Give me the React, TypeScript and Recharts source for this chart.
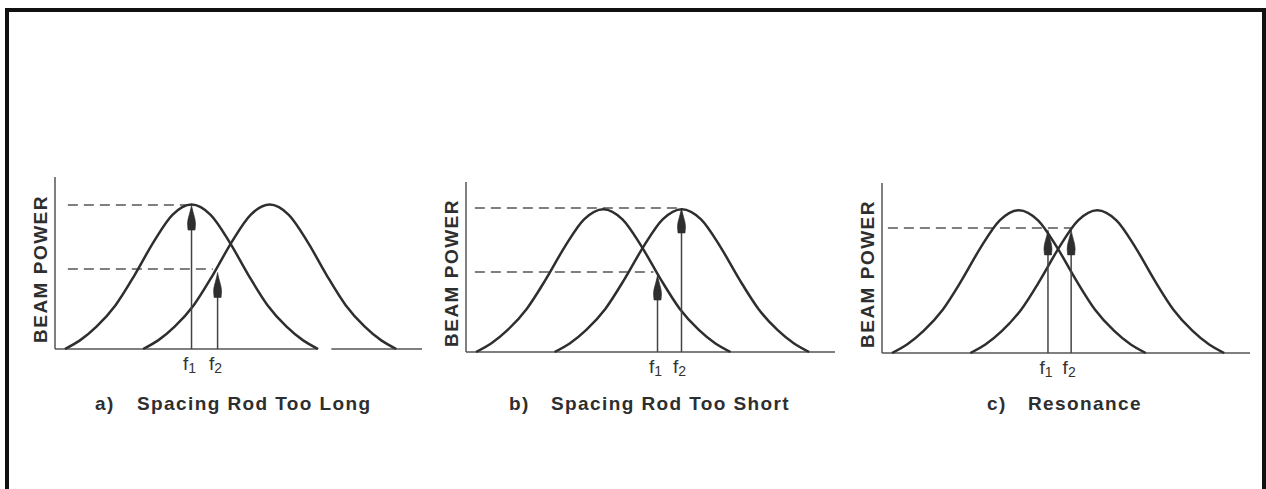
import React from "react";
import { Line, LineChart, ReferenceLine, XAxis, YAxis } from "recharts";

// bell curve (same shape repeated in every panel)
const BELL_Y = [0, 5, 13, 25.5, 43, 62, 78, 84, 78, 62, 43, 25.5, 13, 5, 0];
const LEFT_X = [2.7, 6.8, 11.3, 16.5, 21.7, 26.8, 32.0, 37.2, 42.4, 47.6, 52.7, 57.9, 63.1, 67.6, 71.7];
const RIGHT_X = [24.0, 28.1, 32.6, 37.8, 43.0, 48.1, 53.3, 58.5, 63.7, 68.9, 74.0, 79.2, 84.4, 88.9, 93.0];

const LETTERS = ["a)", "b)", "c)"];
const TITLES = ["Spacing Rod Too Long", "Spacing Rod Too Short", "Resonance"];
const F1 = [37.2, 51.9, 45.1];
const F2 = [44.3, 58.4, 51.4];
const F1_TOP = [83.7, 45.3, 72.4];
const F2_TOP = [44.5, 84.7, 72.4];
const DASH_START = [3.5, 2.4, 1.6];
const DASH_LEVELS = [[83.7, 46.5], [84.7, 47.1], [73.5]];
const DASH_END = [[37.2, 43.0], [58.4, 50.8], [51.4]];
const BASELINE = [[[0, 71.5], [75.3, 100]], [[0, 100]], [[0, 100]]];

const PLOTS = [
  { left: 55, right: 422, top: 177, bottom: 349, letterX: 95, titleX: 137 },
  { left: 466, right: 835, top: 182, bottom: 352, letterX: 509, titleX: 551 },
  { left: 882, right: 1250, top: 183, bottom: 353, letterX: 987, titleX: 1028 },
];

const leftCurve = LEFT_X.map((x, i) => ({ x, y: BELL_Y[i] }));
const rightCurve = RIGHT_X.map((x, i) => ({ x, y: BELL_Y[i] }));

const INK = "#2e2e2e";
const AXIS = "#555";
const FONT = "'Liberation Sans', Arial, Helvetica, sans-serif";
const Y_AXIS_W = 35;
const M = { top: 10, right: 10, bottom: 5, left: 0 };
const X_AXIS_H = 30;

function Arrow(props: any) {
  const { x1, y1, x2, y2 } = props;
  if (x1 == null || y1 == null) return <g />;
  const x = x2;
  const tip = Math.min(y1, y2);
  const base = Math.max(y1, y2);
  const head = `M${x},${tip} C${x + 1},${tip + 7} ${x + 4},${tip + 13} ${x + 4},${tip + 19} L${x + 3.5},${tip + 25} L${x - 3.5},${tip + 25} L${x - 4},${tip + 19} C${x - 4},${tip + 13} ${x - 1},${tip + 7} ${x},${tip} Z`;
  return (
    <g>
      <line x1={x} y1={base} x2={x} y2={tip + 4} stroke="#444" strokeWidth={1.5} />
      <path d={head} fill="#2e2e2e" stroke="#2e2e2e" strokeWidth={0.6} />
    </g>
  );
}

function FreqTick(props: any) {
  const { x, y, payload, f1 } = props;
  const sub = payload.value === f1 ? "1" : "2";
  return (
    <text x={x - 2} y={y + 13} textAnchor="middle" fontFamily={FONT} fill="#333" stroke="none">
      <tspan fontSize={19}>f</tspan>
      <tspan fontSize={14} dy={3}>{sub}</tspan>
    </text>
  );
}

function BeamLabel(props: any) {
  const vb = props.viewBox || {};
  const cx = vb.x + vb.width - 15;
  const cy = vb.y + vb.height / 2 + 6;
  return (
    <text
      x={cx}
      y={cy}
      transform={`rotate(-90 ${cx} ${cy})`}
      textAnchor="middle"
      dominantBaseline="central"
      fontFamily={FONT}
      fontWeight="bold"
      fontSize={19}
      letterSpacing={1.5}
      fill="#2e2e2e"
    >
      BEAM POWER
    </text>
  );
}

function Panel({ i }: { i: number }) {
  const p = PLOTS[i];
  const width = p.right - p.left + Y_AXIS_W + M.left + M.right;
  const height = p.bottom - p.top + M.top + X_AXIS_H + M.bottom;
  return (
    <div style={{ position: "absolute", left: p.left - Y_AXIS_W - M.left, top: p.top - M.top }}>
      <LineChart width={width} height={height} margin={M}>
        <XAxis
          type="number"
          dataKey="x"
          domain={[0, 100]}
          ticks={[F1[i], F2[i]]}
          interval={0}
          axisLine={false}
          tickLine={false}
          height={X_AXIS_H}
          tick={<FreqTick f1={F1[i]} />}
        />
        <YAxis
          type="number"
          domain={[0, 100]}
          width={Y_AXIS_W}
          tick={false}
          tickLine={false}
          axisLine={{ stroke: AXIS, strokeWidth: 1.5 }}
          label={<BeamLabel />}
        />
        {BASELINE[i].map(([a, b], k) => (
          <ReferenceLine
            key={"base" + k}
            segment={[{ x: a, y: 0 }, { x: b, y: 0 }]}
            stroke={AXIS}
            strokeWidth={1.5}
          />
        ))}
        {DASH_LEVELS[i].map((lvl, k) => (
          <ReferenceLine
            key={"dash" + k}
            segment={[{ x: DASH_START[i], y: lvl }, { x: DASH_END[i][k], y: lvl }]}
            stroke={AXIS}
            strokeWidth={1.4}
            strokeDasharray="10 6"
          />
        ))}
        <Line
          data={leftCurve}
          dataKey="y"
          type="monotone"
          stroke={INK}
          strokeWidth={2.5}
          dot={false}
          activeDot={false}
          isAnimationActive={false}
        />
        <Line
          data={rightCurve}
          dataKey="y"
          type="monotone"
          stroke={INK}
          strokeWidth={2.5}
          dot={false}
          activeDot={false}
          isAnimationActive={false}
        />
        <ReferenceLine segment={[{ x: F1[i], y: 0 }, { x: F1[i], y: F1_TOP[i] }]} shape={Arrow} />
        <ReferenceLine segment={[{ x: F2[i], y: 0 }, { x: F2[i], y: F2_TOP[i] }]} shape={Arrow} />
      </LineChart>
    </div>
  );
}

export default function App() {
  const titleStyle: React.CSSProperties = {
    position: "absolute",
    top: 394,
    fontFamily: FONT,
    fontWeight: "bold",
    fontSize: 19,
    lineHeight: "20px",
    letterSpacing: 1.4,
    color: "#2e2e2e",
    whiteSpace: "nowrap",
  };
  return (
    <div
      style={{
        position: "absolute",
        left: 0,
        top: 0,
        width: 1266,
        height: 489,
        background: "#fff",
        overflow: "hidden",
      }}
    >
      <div
        style={{
          position: "absolute",
          left: 5,
          top: 8,
          width: 1261,
          height: 500,
          boxSizing: "border-box",
          borderTop: "4px solid #111",
          borderLeft: "4px solid #111",
          borderRight: "4px solid #111",
        }}
      />
      {PLOTS.map((p, i) => (
        <React.Fragment key={i}>
          <Panel i={i} />
          <div style={{ ...titleStyle, left: p.letterX }}>{LETTERS[i]}</div>
          <div style={{ ...titleStyle, left: p.titleX }}>{TITLES[i]}</div>
        </React.Fragment>
      ))}
    </div>
  );
}
